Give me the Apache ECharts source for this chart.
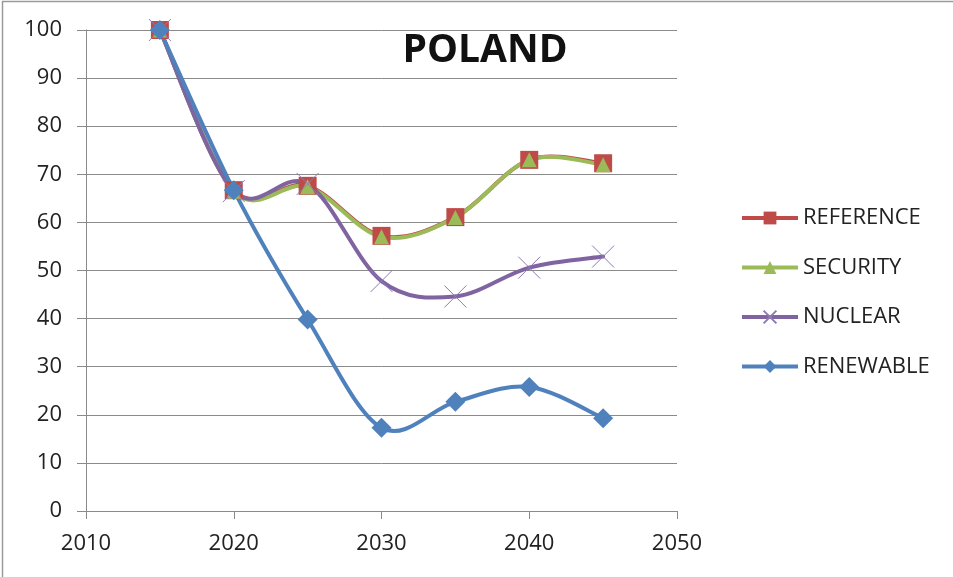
<!DOCTYPE html>
<html>
<head>
<meta charset="utf-8">
<script src="https://cdn.jsdelivr.net/npm/echarts@6/dist/echarts.min.js"></script>
<style>
  html, body { margin: 0; padding: 0; background: #fff; }
  #chart { width: 953px; height: 577px; }
</style>
</head>
<body>
<div id="chart"></div>
<script>
// Years on the horizontal axis
const years = [2015, 2020, 2025, 2030, 2035, 2040, 2045];

// Index values per scenario (2015 = 100)
const reference = [100, 66.7, 67.6, 57.2, 61.1, 73.0, 72.3];
const security  = [100, 66.5, 67.4, 57.0, 61.0, 73.0, 72.0];
const nuclear   = [100, 66.5, 68.0, 47.8, 44.6, 50.6, 52.9];
const renewable = [100, 66.7, 39.8, 17.3, 22.7, 25.8, 19.3];

// Axis ticks
const xTicks = [2010, 2020, 2030, 2040, 2050];
const yTicks = [0, 10, 20, 30, 40, 50, 60, 70, 80, 90, 100];

const seriesNames = ['REFERENCE', 'SECURITY', 'NUCLEAR', 'RENEWABLE'];

const pairs = vals => years.map((y, i) => [y, vals[i]]);

const FONT = '"Open Sans", "Liberation Sans", sans-serif';
const LINE_W = 4;

const chart = echarts.init(document.getElementById('chart'), null, { renderer: 'canvas' });

// Smoothed curve: cardinal (Catmull-Rom) segments between consecutive points,
// computed in pixel space from the axis coordinates.
function curveSeries(vals, color) {
  const data = pairs(vals);
  return {
    type: 'custom',
    silent: true,
    data: data,
    encode: { x: 0, y: 1 },
    renderItem: function (params, api) {
      const i = params.dataIndex;
      if (i >= data.length - 1) return null;
      const p = k => api.coord(data[Math.max(0, Math.min(data.length - 1, k))]);
      const p0 = p(i - 1), p1 = p(i), p2 = p(i + 1), p3 = p(i + 2);
      const t = 1 / 6;
      return {
        type: 'bezierCurve',
        shape: {
          x1: p1[0], y1: p1[1],
          x2: p2[0], y2: p2[1],
          cpx1: p1[0] + (p2[0] - p0[0]) * t,
          cpy1: p1[1] + (p2[1] - p0[1]) * t,
          cpx2: p2[0] - (p3[0] - p1[0]) * t,
          cpy2: p2[1] - (p3[1] - p1[1]) * t
        },
        style: { stroke: color, lineWidth: LINE_W, fill: null, lineCap: 'round' }
      };
    }
  };
}

// Markers (and legend entry) for each scenario; the curve itself is drawn above.
function markerSeries(name, vals, color, symbol, size, itemStyle) {
  return {
    name: name,
    type: 'line',
    data: pairs(vals),
    symbol: symbol,
    symbolSize: size,
    showAllSymbol: true,
    lineStyle: { color: color, width: LINE_W, opacity: 0 },
    itemStyle: itemStyle || { color: color },
    emphasis: { disabled: true }
  };
}

const colors = {
  REFERENCE: '#BE4B48',
  SECURITY: '#9BBB59',
  NUCLEAR: '#8064A2',
  RENEWABLE: '#4F81BD'
};

chart.setOption({
  animation: false,
  backgroundColor: '#ffffff',
  graphic: [{
    type: 'rect',
    shape: { x: 2.5, y: 1.5, width: 1000, height: 1000 },
    style: { fill: 'none', stroke: '#9a9a9a', lineWidth: 1.5 },
    silent: true
  }],
  title: {
    text: 'POLAND',
    left: 480,
    top: 26,
    textAlign: 'center',
    textStyle: { fontFamily: FONT, fontSize: 39, fontWeight: 'bold', color: '#111' }
  },
  grid: { left: 86, right: 276, top: 30, bottom: 66, containLabel: false },
  legend: {
    orient: 'vertical',
    left: 740,
    top: 207,
    padding: 0,
    itemGap: 27.5,
    itemWidth: 56,
    itemHeight: 16,
    textStyle: { fontFamily: FONT, fontSize: 22, color: '#222' },
    data: seriesNames.map(n => ({
      name: n,
      lineStyle: { color: colors[n], width: LINE_W, opacity: 1 }
    }))
  },
  xAxis: {
    type: 'value',
    min: xTicks[0],
    max: xTicks[xTicks.length - 1],
    interval: xTicks[1] - xTicks[0],
    axisLine: { show: true, lineStyle: { color: '#8a8a8a', width: 1 } },
    axisTick: { show: true, length: 8, lineStyle: { color: '#8a8a8a' } },
    splitLine: { show: false },
    axisLabel: {
      fontFamily: FONT, fontSize: 22, color: '#222', margin: 22,
      formatter: v => String(v)
    }
  },
  yAxis: {
    type: 'value',
    min: yTicks[0],
    max: yTicks[yTicks.length - 1],
    interval: yTicks[1] - yTicks[0],
    axisLine: { show: true, lineStyle: { color: '#8a8a8a', width: 1 } },
    axisTick: { show: true, length: 9, lineStyle: { color: '#8a8a8a' } },
    splitLine: { show: true, lineStyle: { color: '#8a8a8a', width: 1 } },
    axisLabel: { fontFamily: FONT, fontSize: 22, color: '#222', margin: 24 }
  },
  series: [
    curveSeries(reference, colors.REFERENCE),
    markerSeries('REFERENCE', reference, colors.REFERENCE, 'rect', 18),
    curveSeries(security, colors.SECURITY),
    markerSeries('SECURITY', security, colors.SECURITY, 'triangle', 15),
    curveSeries(nuclear, colors.NUCLEAR),
    markerSeries('NUCLEAR', nuclear, colors.NUCLEAR, 'path://M0,0 L10,10 M10,0 L0,10', 22,
      { color: 'none', borderColor: '#8F7AB5', borderWidth: 1 }),
    curveSeries(renewable, colors.RENEWABLE),
    markerSeries('RENEWABLE', renewable, colors.RENEWABLE, 'diamond', 20)
  ]
});
</script>
</body>
</html>
